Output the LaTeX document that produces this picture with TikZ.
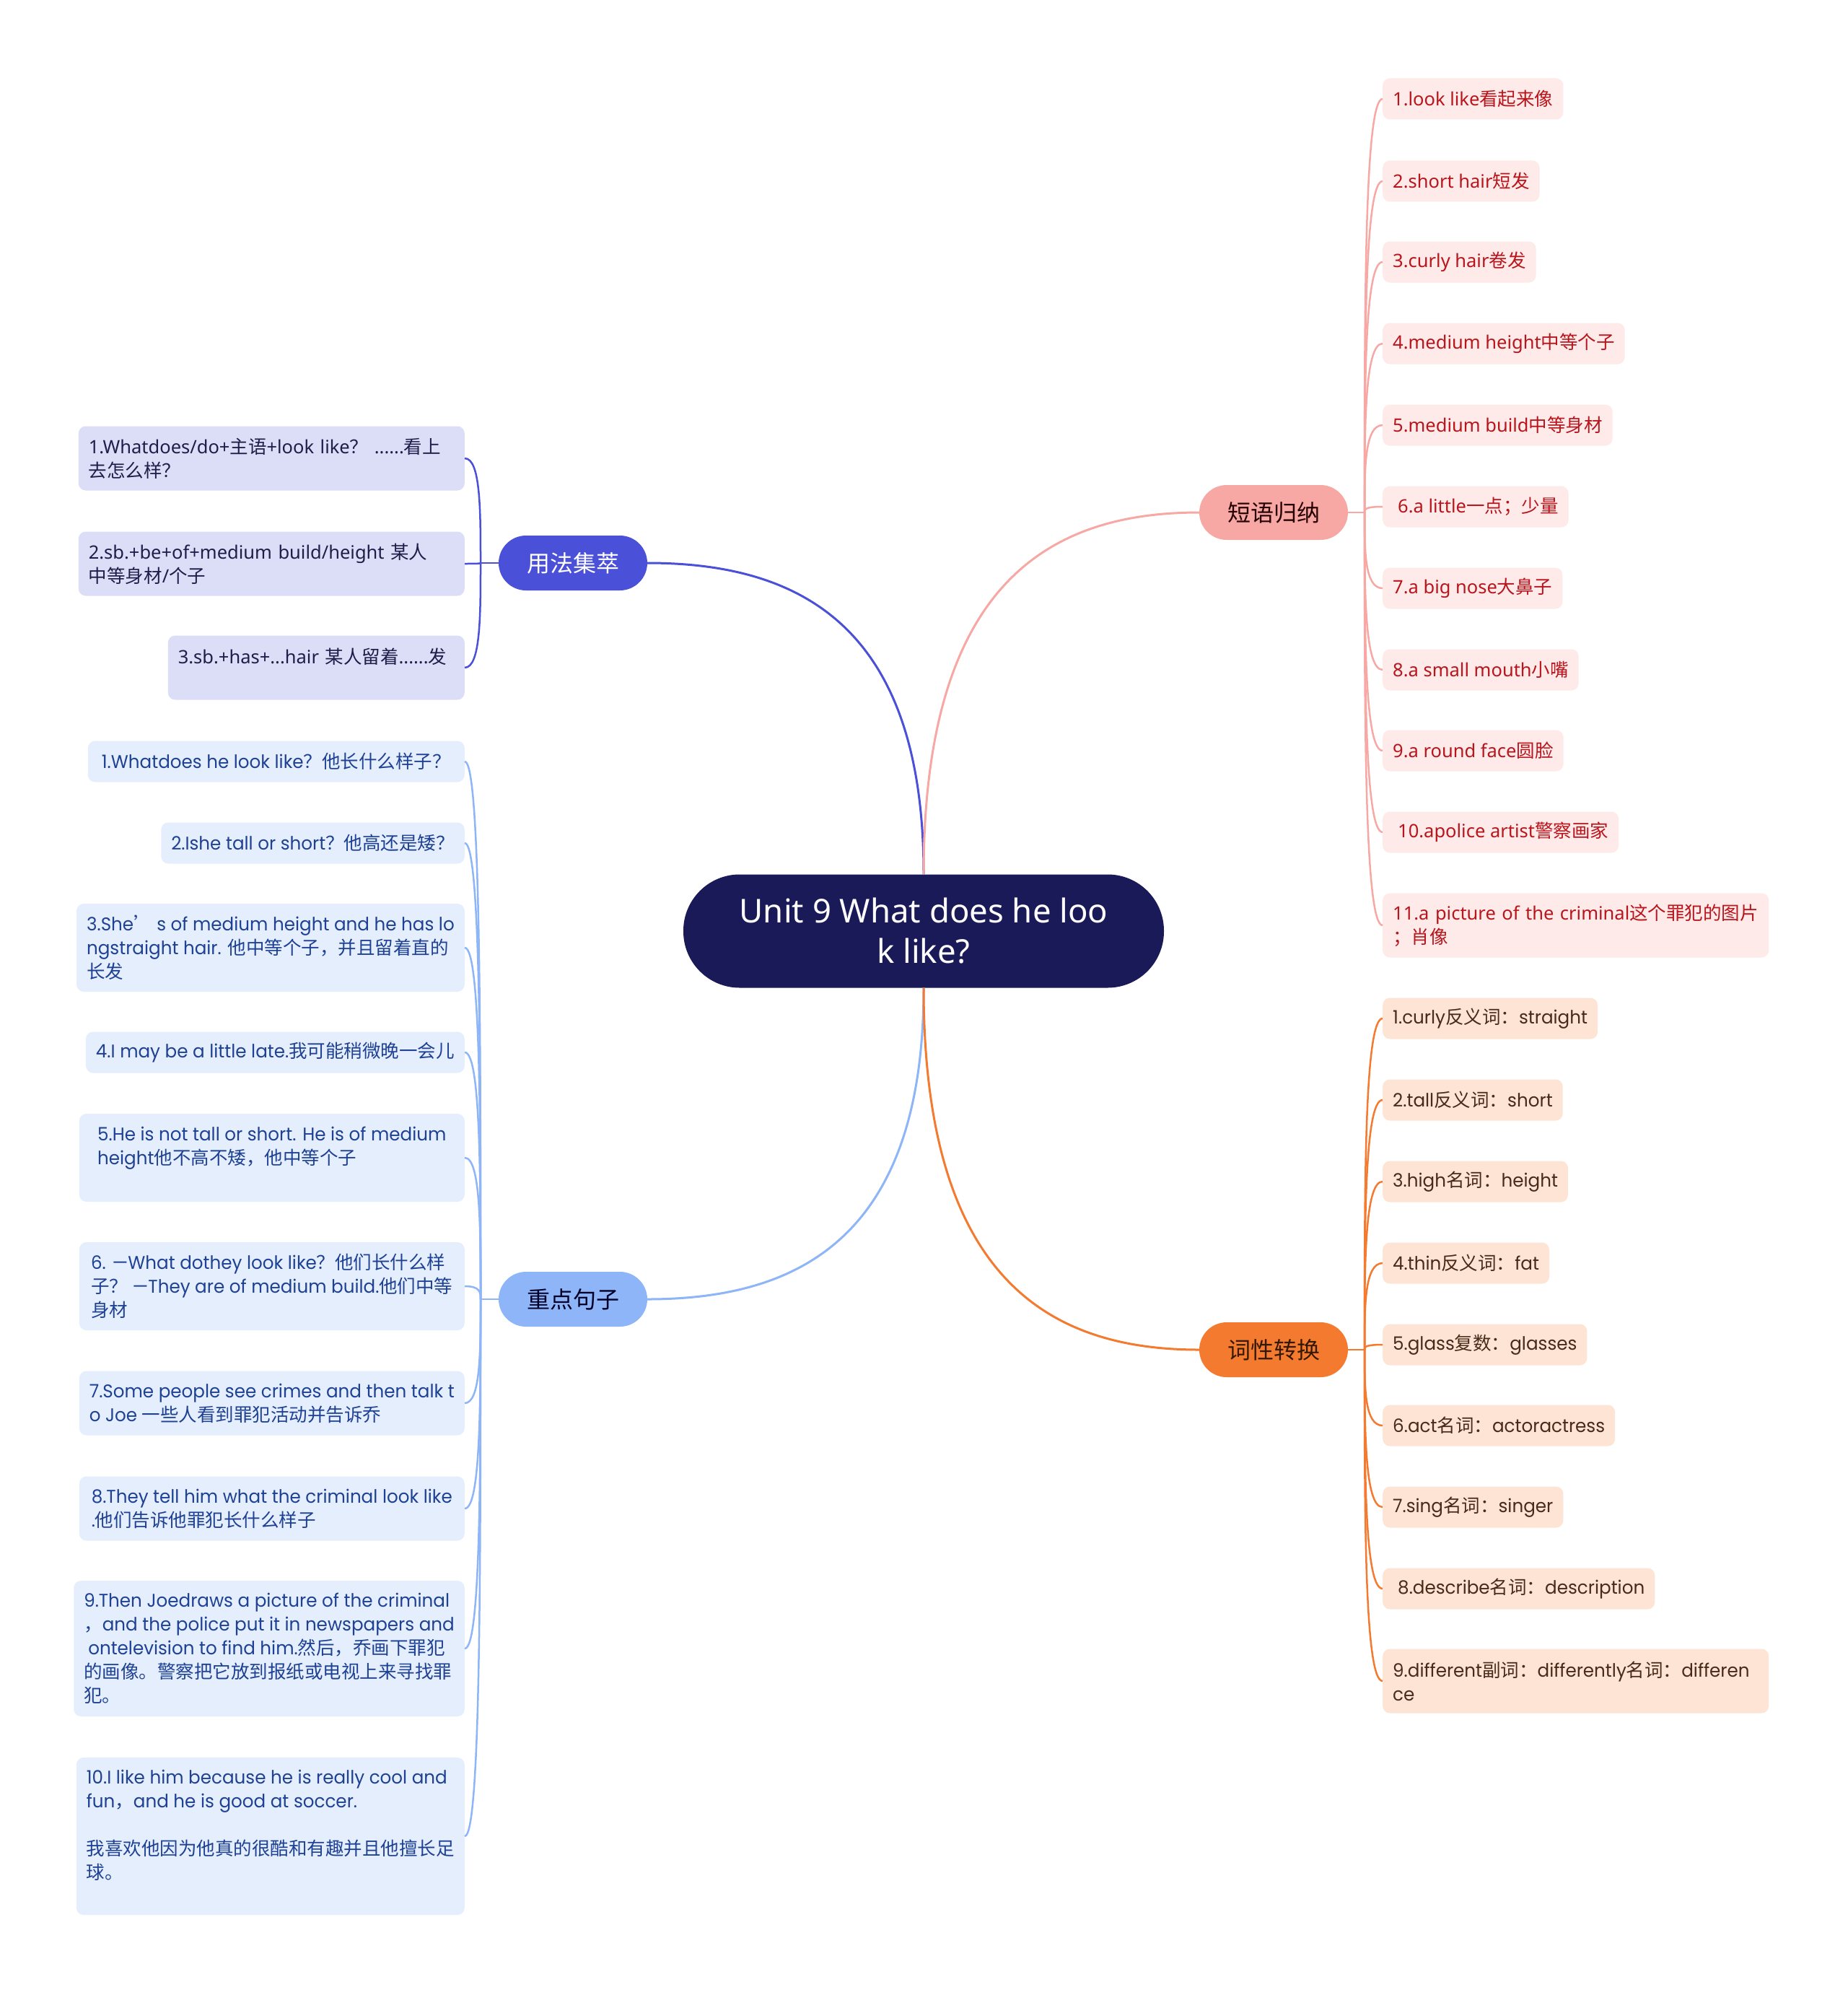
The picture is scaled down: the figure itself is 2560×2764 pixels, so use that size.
\documentclass[tikz,border=0pt]{standalone}
\usepackage{fontspec}
\setmainfont{Noto Sans}
\newfontfamily\hanfont{Noto Sans CJK SC}
\newfontfamily\geofont[FakeStretch=0.965]{Poppins}
\usetikzlibrary{calc}

\XeTeXinterchartokenstate=1
\newXeTeXintercharclass\hanclass
\newcount\hancount
\def\sethan#1#2{\hancount=#1 \loop\XeTeXcharclass\hancount=\hanclass \advance\hancount by 1 \ifnum\hancount<#2 \repeat}
\sethan{"3000}{"3040}
\sethan{"4E00}{"A000}
\sethan{"FF00}{"FFF0}
\XeTeXcharclass"2019=\hanclass
\XeTeXinterchartoks 0 \hanclass={\begingroup\hanfont}
\XeTeXinterchartoks 4095 \hanclass={\begingroup\hanfont}
\XeTeXinterchartoks \hanclass 0={\endgroup}
\XeTeXinterchartoks \hanclass 4095={\endgroup}

\definecolor{hubfill}{HTML}{1B1A58}
\definecolor{yongfa}{HTML}{4A50D8}
\definecolor{yongfabg}{HTML}{DCDDF7}
\definecolor{yongfatx}{HTML}{1E1E4A}
\definecolor{zhongdian}{HTML}{8DB5F8}
\definecolor{zhongdianbg}{HTML}{E5EEFD}
\definecolor{zhongdiantx}{HTML}{1E4194}
\definecolor{duanyu}{HTML}{F7A8A4}
\definecolor{duanyubg}{HTML}{FDEAE9}
\definecolor{duanyutx}{HTML}{B8151C}
\definecolor{cixing}{HTML}{F47A30}
\definecolor{cixingbg}{HTML}{FDE4D5}
\definecolor{cixingtx}{HTML}{4A2A18}

\tikzset{
  hub/.style={fill=hubfill,text=white,rounded corners=78pt,minimum width=666pt,minimum height=157pt,align=center,font=\fontsize{45.5}{56}\selectfont},
  topic/.style={rounded corners=38pt,minimum width=206pt,minimum height=76pt,font=\fontsize{32}{38}\selectfont},
  leaf/.style={rounded corners=10pt,align=left,inner xsep=14pt,inner ysep=0pt,minimum height=57pt,font=\fontsize{25.5}{33}\selectfont},
  yfleaf/.style={leaf,fill=yongfabg,text=yongfatx,anchor=east},
  zdleaf/.style={leaf,fill=zhongdianbg,text=zhongdiantx,anchor=east,font=\geofont\fontsize{25.5}{33}\selectfont},
  zdwide/.style={zdleaf,minimum width=534pt},
  dyleaf/.style={leaf,fill=duanyubg,text=duanyutx,anchor=west},
  cxleaf/.style={leaf,fill=cixingbg,text=cixingtx,anchor=west,font=\geofont\fontsize{25.5}{33}\selectfont},
  bough/.style={line width=3pt,to path={.. controls ($(\tikztostart)!.8!(\tikztostart |- \tikztotarget)$) and ($(\tikztotarget)!.55!(\tikztotarget -| \tikztostart)$) .. (\tikztotarget)}},
  twig/.style={line width=2.5pt,to path={.. controls ($(\tikztostart)!.5!(\tikztostart |- \tikztotarget)$) and (\tikztostart |- \tikztotarget) .. (\tikztotarget)}}
}

\begin{document}
\begin{tikzpicture}[x=1pt,y=-1pt]
\path[use as bounding box,fill=white] (0,0) rectangle (2560,2764);

\node[hub] (hub) at (1280,1290) {Unit 9 What does he loo\\k like?};

\node[topic,fill=yongfa,text=white] (yf) at (794,780) {用法集萃};
\node[topic,fill=zhongdian,text=black!85!blue] (zd) at (794,1800) {重点句子};
\node[topic,fill=duanyu,text=black!85!red] (dy) at (1765,710) {短语归纳};
\node[topic,fill=cixing,text=black!80!orange] (cx) at (1765,1870) {词性转换};

\coordinate (jyf) at (666,780);
\coordinate (jzd) at (666,1800);
\coordinate (jdy) at (1891,710);
\coordinate (jcx) at (1891,1870);

\node[yfleaf,minimum height=89pt,text width=507pt] (yf1) at (644,635) {1.Whatdoes/do+主语+look like？ ......看上\\去怎么样？};
\node[yfleaf,minimum height=89pt,text width=507pt] (yf2) at (644,781) {2.sb.+be+of+medium build/height 某人\\中等身材/个子};
\node[yfleaf,minimum height=89pt,text width=383pt] (yf3) at (644,925) {3.sb.+has+...hair 某人留着......发\\\mbox{}};

\node[zdleaf,minimum width=522pt] (zd1) at (644,1055) {1.Whatdoes he look like？他长什么样子？};
\node[zdleaf] (zd2) at (644,1168) {2.Ishe tall or short？他高还是矮？};
\node[zdwide,minimum height=122pt] (zd3) at (644,1313) {3.She’ s of medium height and he has lo\\ngstraight hair. 他中等个子，并且留着直的\\长发};
\node[zdleaf] (zd4) at (644,1458) {4.I may be a little late.我可能稍微晚一会儿};
\node[zdwide,minimum height=122pt] (zd5) at (644,1604) {5.He is not tall or short. He is of medium\\height他不高不矮，他中等个子\\\mbox{}};
\node[zdwide,minimum height=122pt] (zd6) at (644,1782) {6. —What dothey look like？他们长什么样\\子？ —They are of medium build.他们中等\\身材};
\node[zdwide,minimum height=89pt] (zd7) at (644,1944) {7.Some people see crimes and then talk t\\o Joe 一些人看到罪犯活动并告诉乔};
\node[zdwide,minimum height=89pt] (zd8) at (644,2090) {8.They tell him what the criminal look like\\.他们告诉他罪犯长什么样子};
\node[zdwide,minimum height=188pt] (zd9) at (644,2284) {9.Then Joedraws a picture of the criminal\\，and the police put it in newspapers and\\\hspace*{6pt}ontelevision to find him.然后，乔画下罪犯\\的画像。警察把它放到报纸或电视上来寻找罪\\犯。};
\node[zdwide,minimum height=218pt] (zd10) at (644,2544) {10.I like him because he is really cool and\\fun，and he is good at soccer.\\\mbox{}\\我喜欢他因为他真的很酷和有趣并且他擅长足\\球。\\\mbox{}};

\node[dyleaf] (dy1) at (1916,137) {1.look like看起来像};
\node[dyleaf] (dy2) at (1916,251) {2.short hair短发};
\node[dyleaf] (dy3) at (1916,363) {3.curly hair卷发};
\node[dyleaf] (dy4) at (1916,476) {4.medium height中等个子};
\node[dyleaf] (dy5) at (1916,589) {5.medium build中等身材};
\node[dyleaf] (dy6) at (1916,702) {\hspace*{7pt}6.a little一点；少量};
\node[dyleaf] (dy7) at (1916,815) {7.a big nose大鼻子};
\node[dyleaf] (dy8) at (1916,928) {8.a small mouth小嘴};
\node[dyleaf] (dy9) at (1916,1040) {9.a round face圆脸};
\node[dyleaf] (dy10) at (1916,1153) {\hspace*{7pt}10.apolice artist警察画家};
\node[dyleaf,minimum height=89pt,text width=507pt] (dy11) at (1916,1282) {11.a picture of the criminal这个罪犯的图片\\；肖像};

\node[cxleaf] (cx1) at (1916,1411) {1.curly反义词：straight};
\node[cxleaf] (cx2) at (1916,1524) {2.tall反义词：short};
\node[cxleaf] (cx3) at (1916,1637) {3.high名词：height};
\node[cxleaf] (cx4) at (1916,1750) {4.thin反义词：fat};
\node[cxleaf] (cx5) at (1916,1863) {5.glass复数：glasses};
\node[cxleaf] (cx6) at (1916,1975) {6.act名词：actoractress};
\node[cxleaf] (cx7) at (1916,2088) {7.sing名词：singer};
\node[cxleaf] (cx8) at (1916,2201) {\hspace*{7pt}8.describe名词：description};
\node[cxleaf,minimum height=89pt,text width=507pt] (cx9) at (1916,2329) {9.different副词：differently名词：differen\\ce};

\draw[yongfa,bough] (hub.north) to (yf.east);
\draw[duanyu,bough] (hub.north) to (dy.west);
\draw[zhongdian,bough] (hub.south) to (zd.east);
\draw[cixing,bough] (hub.south) to (cx.west);

\draw[yongfa,line width=2.5pt] (yf.west) -- (jyf);
\draw[yongfa,twig] (jyf) to (yf1.east);
\draw[yongfa,twig] (jyf) to (yf2.east);
\draw[yongfa,twig] (jyf) to (yf3.east);

\draw[zhongdian,line width=2.5pt] (zd.west) -- (jzd);
\draw[zhongdian,twig] (jzd) to (zd1.east);
\draw[zhongdian,twig] (jzd) to (zd2.east);
\draw[zhongdian,twig] (jzd) to (zd3.east);
\draw[zhongdian,twig] (jzd) to (zd4.east);
\draw[zhongdian,twig] (jzd) to (zd5.east);
\draw[zhongdian,twig] (jzd) to (zd6.east);
\draw[zhongdian,twig] (jzd) to (zd7.east);
\draw[zhongdian,twig] (jzd) to (zd8.east);
\draw[zhongdian,twig] (jzd) to (zd9.east);
\draw[zhongdian,twig] (jzd) to (zd10.east);

\draw[duanyu,line width=2.5pt] (dy.east) -- (jdy);
\draw[duanyu,twig] (jdy) to (dy1.west);
\draw[duanyu,twig] (jdy) to (dy2.west);
\draw[duanyu,twig] (jdy) to (dy3.west);
\draw[duanyu,twig] (jdy) to (dy4.west);
\draw[duanyu,twig] (jdy) to (dy5.west);
\draw[duanyu,twig] (jdy) to (dy6.west);
\draw[duanyu,twig] (jdy) to (dy7.west);
\draw[duanyu,twig] (jdy) to (dy8.west);
\draw[duanyu,twig] (jdy) to (dy9.west);
\draw[duanyu,twig] (jdy) to (dy10.west);
\draw[duanyu,twig] (jdy) to (dy11.west);

\draw[cixing,line width=2.5pt] (cx.east) -- (jcx);
\draw[cixing,twig] (jcx) to (cx1.west);
\draw[cixing,twig] (jcx) to (cx2.west);
\draw[cixing,twig] (jcx) to (cx3.west);
\draw[cixing,twig] (jcx) to (cx4.west);
\draw[cixing,twig] (jcx) to (cx5.west);
\draw[cixing,twig] (jcx) to (cx6.west);
\draw[cixing,twig] (jcx) to (cx7.west);
\draw[cixing,twig] (jcx) to (cx8.west);
\draw[cixing,twig] (jcx) to (cx9.west);
\end{tikzpicture}
\end{document}
